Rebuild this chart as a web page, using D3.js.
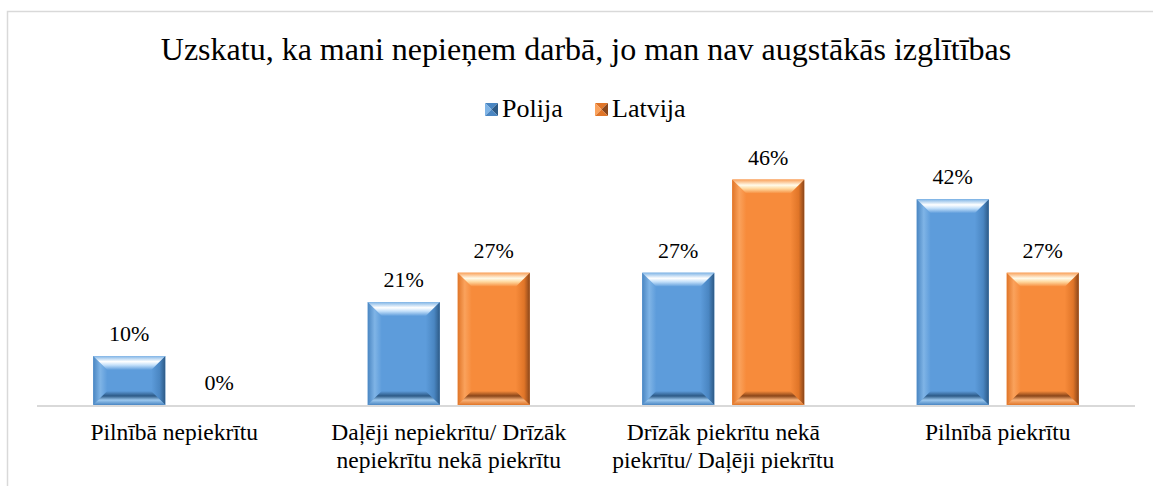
<!DOCTYPE html>
<html>
<head>
<meta charset="utf-8">
<script src="https://cdn.jsdelivr.net/npm/d3@7/dist/d3.min.js"></script>
<style>
  html, body { margin: 0; padding: 0; background: #fff; }
  svg { display: block; }
  text { font-family: "Liberation Serif", "Times New Roman", serif; fill: #000; }
</style>
</head>
<body>
<svg id="chart" width="1153" height="486"></svg>
<script>
// Survey answers, share of respondents (%)
const categories = [
  ["Pilnībā nepiekrītu"],
  ["Daļēji nepiekrītu/ Drīzāk", "nepiekrītu nekā piekrītu"],
  ["Drīzāk piekrītu nekā", "piekrītu/ Daļēji piekrītu"],
  ["Pilnībā piekrītu"]
];
const series = ["Polija", "Latvija"];
const polija = [10, 21, 27, 42];
const latvija = [0, 27, 46, 27];
const title = "Uzskatu, ka mani nepieņem darbā, jo man nav augstākās izglītības";

const palette = {
  Polija: { face: "#5d9cdb", light: "#c4e0fa", hi: "#ffffff", side: "#7fb4e6", edge: "#4a86c2", dark: "#2d5a86", bottom: "#9cc8ee" },
  Latvija: { face: "#f78b3b", light: "#ffd9a0", hi: "#fffbea", side: "#faa25c", edge: "#e07528", dark: "#8a461a", bottom: "#f8b27a" }
};

const svg = d3.select("#chart");
const W = 1153, H = 486;

// chart frame
svg.append("path")
  .attr("d", `M7.5,${H + 2} L7.5,11.5 L${W + 2},11.5`)
  .attr("fill", "none").attr("stroke", "#d9d9d9").attr("stroke-width", 1.5);

const plot = { left: 37, right: 1135, bottom: 405 };

const x0 = d3.scaleBand()
  .domain(d3.range(categories.length))
  .range([plot.left, plot.right])
  .padding(0);

const x1 = d3.scaleBand()
  .domain(series)
  .range([0, x0.bandwidth()])
  .paddingInner(0.2)
  .paddingOuter(0.625);

const y = d3.scaleLinear().domain([0, 52]).range([plot.bottom, plot.bottom - 52 * 4.9]);

const defs = svg.append("defs");
series.forEach(s => {
  const c = palette[s];
  const gTop = defs.append("linearGradient").attr("id", "top-" + s).attr("x1", 0).attr("y1", 0).attr("x2", 0).attr("y2", 1);
  gTop.append("stop").attr("offset", "0%").attr("stop-color", c.side);
  gTop.append("stop").attr("offset", "40%").attr("stop-color", c.hi);
  gTop.append("stop").attr("offset", "65%").attr("stop-color", c.light);
  gTop.append("stop").attr("offset", "100%").attr("stop-color", c.face);
  const gL = defs.append("linearGradient").attr("id", "left-" + s).attr("x1", 0).attr("y1", 0).attr("x2", 1).attr("y2", 0);
  gL.append("stop").attr("offset", "0%").attr("stop-color", c.edge);
  gL.append("stop").attr("offset", "50%").attr("stop-color", c.side);
  gL.append("stop").attr("offset", "100%").attr("stop-color", c.face);
  const gR = defs.append("linearGradient").attr("id", "right-" + s).attr("x1", 0).attr("y1", 0).attr("x2", 1).attr("y2", 0);
  gR.append("stop").attr("offset", "0%").attr("stop-color", c.face);
  gR.append("stop").attr("offset", "60%").attr("stop-color", c.edge);
  gR.append("stop").attr("offset", "100%").attr("stop-color", c.dark);
  const gB = defs.append("linearGradient").attr("id", "bottom-" + s).attr("x1", 0).attr("y1", 0).attr("x2", 0).attr("y2", 1);
  gB.append("stop").attr("offset", "0%").attr("stop-color", c.face);
  gB.append("stop").attr("offset", "35%").attr("stop-color", c.dark);
  gB.append("stop").attr("offset", "65%").attr("stop-color", c.bottom);
  gB.append("stop").attr("offset", "100%").attr("stop-color", c.edge);
});

// beveled bar: a flat face with four trapezoid edges
function bevelBar(g, x, yTop, w, h, s) {
  if (h <= 0) return;
  const b = Math.min(14, h / 3.5, w / 5);
  const x2 = x + w, y2 = yTop + h;
  const pts = a => a.map(p => p.join(",")).join(" ");
  g.append("rect").attr("x", x).attr("y", yTop).attr("width", w).attr("height", h).attr("fill", palette[s].face);
  g.append("polygon").attr("points", pts([[x, yTop], [x + b, yTop + b], [x + b, y2 - b], [x, y2]])).attr("fill", `url(#left-${s})`);
  g.append("polygon").attr("points", pts([[x2, yTop], [x2, y2], [x2 - b, y2 - b], [x2 - b, yTop + b]])).attr("fill", `url(#right-${s})`);
  g.append("polygon").attr("points", pts([[x, y2], [x + b, y2 - b], [x2 - b, y2 - b], [x2, y2]])).attr("fill", `url(#bottom-${s})`);
  g.append("polygon").attr("points", pts([[x, yTop], [x2, yTop], [x2 - b, yTop + b], [x + b, yTop + b]])).attr("fill", `url(#top-${s})`);
}

const data = categories.map((c, i) => ({ i, values: { Polija: polija[i], Latvija: latvija[i] } }));

const groups = svg.append("g").selectAll("g")
  .data(data).join("g")
  .attr("transform", d => `translate(${x0(d.i)},0)`);

groups.each(function (d) {
  const g = d3.select(this);
  series.forEach(s => {
    const v = d.values[s];
    bevelBar(g, x1(s), y(v), x1.bandwidth(), y(0) - y(v), s);
    g.append("text")
      .attr("x", x1(s) + x1.bandwidth() / 2)
      .attr("y", y(v) - 15)
      .attr("text-anchor", "middle")
      .attr("font-size", 22)
      .text(v + "%");
  });
});

// category axis
svg.append("line")
  .attr("x1", plot.left).attr("x2", plot.right)
  .attr("y1", plot.bottom + 1).attr("y2", plot.bottom + 1)
  .attr("stroke", "#d9d9d9").attr("stroke-width", 2);

svg.append("g").selectAll("text")
  .data(categories).join("text")
  .attr("x", (d, i) => x0(i) + x0.bandwidth() / 2)
  .attr("y", 440)
  .attr("text-anchor", "middle")
  .attr("font-size", 23.5)
  .selectAll("tspan")
  .data(d => d).join("tspan")
  .attr("x", function () { return d3.select(this.parentNode).attr("x"); })
  .attr("dy", (d, i) => i === 0 ? 0 : 28)
  .text(d => d);

// title
svg.append("text")
  .attr("x", 586).attr("y", 60)
  .attr("text-anchor", "middle")
  .attr("font-size", 32)
  .text(title);

// legend
const legend = svg.append("g");
const legendPos = [485, 595];
series.forEach((s, i) => {
  const lx = legendPos[i], ly = 103, sz = 13;
  const c = palette[s];
  const cx = lx + sz / 2, cy = ly + sz / 2;
  const tri = (a, fill) => legend.append("polygon").attr("points", a.map(p => p.join(",")).join(" ")).attr("fill", fill);
  tri([[lx, ly], [lx + sz, ly], [cx, cy]], c.edge);
  tri([[lx, ly], [cx, cy], [lx, ly + sz]], c.side);
  tri([[lx + sz, ly], [lx + sz, ly + sz], [cx, cy]], c.dark);
  tri([[lx, ly + sz], [cx, cy], [lx + sz, ly + sz]], c.edge);
  legend.append("text")
    .attr("x", lx + sz + 4).attr("y", ly + sz + 1)
    .attr("font-size", 26)
    .text(s);
});
</script>
</body>
</html>
